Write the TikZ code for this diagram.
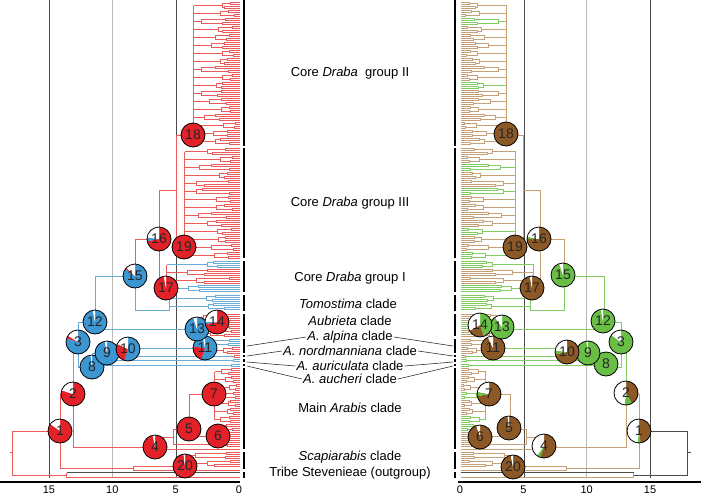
\documentclass[tikz,border=0pt]{standalone}
\usepackage{fontspec}
\setmainfont{Liberation Sans}
\usepackage{tikz}

\definecolor{redline}{RGB}{236,90,90}
\definecolor{blueline}{RGB}{105,172,218}
\definecolor{brownline}{RGB}{198,160,120}
\definecolor{greenline}{RGB}{130,204,100}
\definecolor{piered}{RGB}{226,34,40}
\definecolor{pieblue}{RGB}{60,150,210}
\definecolor{piebrown}{RGB}{140,88,38}
\definecolor{piegreen}{RGB}{105,190,70}

\tikzset{
  branch/.style={line width=0.8pt},
  gridline/.style={gray!60!black, line width=0.7pt},
  cladebar/.style={line width=2.6pt, black},
  pielabel/.style={circle, draw=black, line width=0.8pt, minimum size=24pt,
    inner sep=0pt, font=\fontsize{14}{14}\selectfont, text=black!85},
  cladename/.style={font=\fontsize{13}{15}\selectfont, inner sep=1pt},
  leader/.style={black!80, line width=0.6pt},
  ticklabel/.style={font=\fontsize{11}{11}\selectfont, inner sep=0pt}
}

% pie at centre #1 with number #2 and name #3, wedges colour/percent clockwise from 12 o'clock
\newcommand{\pie}[4]{%
  \fill[white] (#1) circle[radius=12pt];
  \gdef\pieangle{90}
  \foreach \wc/\wp in {#4} {
    \pgfmathsetmacro\pieend{\pieangle-3.6*\wp}
    \fill[\wc] (#1) -- ++(\pieangle:12pt) arc[start angle=\pieangle, end angle=\pieend, radius=12pt] -- cycle;
    \xdef\pieangle{\pieend}
  }
  \node[pielabel] (#3) at (#1) {#2};
}

% clade of quads: crown depth, stem y, first tip y, number of quads, colour, other colour, percent of other
\newcommand{\clade}[7]{%
  \pgfmathtruncatemacro\nq{#4-1}
  \foreach \k in {0,...,\nq} {
    \pgfmathsetmacro\yy{#3+8*\k}
    \pgfmathtruncatemacro\qd{#1*(0.35+0.55*rnd)}
    \pgfmathtruncatemacro\pa{\qd*(0.2+0.65*rnd)+1}
    \pgfmathtruncatemacro\pb{\qd*(0.2+0.65*rnd)+1}
    \pgfmathtruncatemacro\rr{mod(37*\k+13*#3+11,100)}
    \ifnum\rr<#7 \colorlet{tipc}{#6}\else\colorlet{tipc}{#5}\fi
    \draw[branch, tipc] (0,\yy) -- (\pa,\yy) -- (\pa,\yy+2) -- (0,\yy+2);
    \draw[branch, tipc] (0,\yy+4) -- (\pb,\yy+4) -- (\pb,\yy+6) -- (0,\yy+6);
    \draw[branch, tipc] (\pa,\yy+1) -- (\qd,\yy+1) -- (\qd,\yy+5) -- (\pb,\yy+5);
    \draw[branch, tipc] (\qd,\yy+3) -- (#1,\yy+3);
  }
  \pgfmathsetmacro\ytop{min(#2,#3+3)}
  \pgfmathsetmacro\ybot{max(#2,#3+8*#4-5)}
  \draw[branch, #5] (#1,\ytop) -- (#1,\ybot);
}

% whole tree, x is the depth from the tips
\newcommand{\drawtree}{%
  \pgfmathsetseed{7}
  % root and outgroup
  \draw[branch, rootc] (230,452) -- (227,452);
  \draw[branch, rootc] (179,431) -- (227,431) -- (227,475) -- (173,475);
  \draw[branch, one] (173,472) -- (173,477) -- (0,477);
  \draw[branch, black!70] (173,472) -- (0,472);
  % node 1 and Scapiarabis
  \draw[branch, one] (166,394) -- (179,394) -- (179,468) -- (106,468);
  \draw[branch, one] (54,466) -- (106,466) -- (106,470) -- (0,470);
  \clade{54}{466}{452}{2}{one}{two}{\sScapi}
  % node 2 and main Arabis clade
  \draw[branch, two] (161,342) -- (166,342) -- (166,394);
  \draw[branch, one] (166,394) -- (166,447) -- (84,447);
  \draw[branch, one] (66,437) -- (84,437) -- (84,449) -- (0,449);
  \draw[branch, one] (50,429) -- (66,429) -- (66,444) -- (30,444);
  \clade{30}{444}{440}{1}{one}{two}{\sArabis}
  \draw[branch, one] (25,394) -- (50,394) -- (50,436) -- (21,436);
  \clade{25}{394}{368}{7}{one}{two}{\sArabis}
  \clade{21}{436}{424}{2}{one}{two}{\sArabis}
  % node 3 and the small clades
  \draw[branch, two] (144,322) -- (161,322) -- (161,367) -- (147,367);
  \draw[branch, two] (132,353) -- (147,353) -- (147,365) -- (8,365);
  \draw[branch, two] (0,364) -- (8,364) -- (8,366) -- (0,366);
  \draw[branch, two] (111,349) -- (132,349) -- (132,360) -- (6,360);
  \draw[branch, two] (0,359) -- (6,359) -- (6,361) -- (0,361);
  \draw[branch, two] (34,348) -- (111,348) -- (111,356) -- (5,356);
  \draw[branch, one] (0,355) -- (5,355) -- (5,357) -- (0,357);
  \clade{34}{348}{339}{2}{one}{two}{\sAlpina}
  % node 12, Aubrieta, Tomostima and core Draba
  \draw[branch, two] (104,276) -- (144,276) -- (144,329) -- (42,329);
  \clade{42}{329}{314}{3}{one}{two}{\sAubrieta}
  \draw[branch, two] (70,310) -- (104,310) -- (104,276);
  \clade{70}{310}{295}{2}{two}{one}{\sTomostima}
  \draw[branch, one] (104,276) -- (104,239) -- (80,239);
  \draw[branch, one] (63,190) -- (80,190) -- (80,288) -- (73,288);
  \clade{73}{288}{261}{4}{one}{two}{\sCoreI}
  \draw[branch, one] (46,135) -- (63,135) -- (63,247) -- (55,247);
  \clade{55}{247}{148}{14}{one}{two}{\sCoreIII}
  \clade{46}{135}{2}{18}{one}{two}{\sCoreII}
}

\begin{document}
\begin{tikzpicture}[x=1pt, y=-1pt]
  \useasboundingbox (0,0) rectangle (701,496);

  % time lines
  \foreach \t in {5,15} {
    \draw[gridline] ({239.5-12.67*\t},0) -- ({239.5-12.67*\t},478);
    \draw[gridline] ({460.5+12.67*\t},0) -- ({460.5+12.67*\t},478);
  }
  \draw[gridline, gray!55, line width=1pt] (112.5,0) -- (112.5,478);
  \draw[gridline, gray!55, line width=1pt] (586.5,0) -- (586.5,478);

  % left tree
  \begin{scope}[xshift=239.5pt, yshift=-0.5pt, xscale=-1]
    \colorlet{one}{redline}
    \colorlet{two}{blueline}
    \colorlet{rootc}{redline}
    \def\sScapi{0}
    \def\sArabis{3}
    \def\sAlpina{50}
    \def\sAubrieta{25}
    \def\sTomostima{25}
    \def\sCoreI{35}
    \def\sCoreIII{3}
    \def\sCoreII{6}
    \drawtree
  \end{scope}

  % right tree
  \begin{scope}[xshift=460.5pt, yshift=-0.5pt]
    \colorlet{one}{brownline}
    \colorlet{two}{greenline}
    \colorlet{rootc}{black!70}
    \def\sScapi{15}
    \def\sArabis{30}
    \def\sAlpina{15}
    \def\sAubrieta{45}
    \def\sTomostima{20}
    \def\sCoreI{30}
    \def\sCoreIII{30}
    \def\sCoreII{15}
    \drawtree
  \end{scope}

  % clade bars
  \foreach \ya/\yb in {0/146, 148/258, 261/292, 295/311, 314/336, 339/353, 355/357,
      359/362, 364/366, 368/449, 452/469, 472/478} {
    \draw[cladebar] (244,\ya) -- (244,\yb);
    \draw[cladebar] (455,\ya) -- (455,\yb);
  }

  % axes
  \draw[line width=1.2pt] (0,482) -- (240,482);
  \draw[line width=1.2pt] (458,482) -- (701,482);
  \foreach \t in {0,5,10,15} {
    \node[ticklabel] (lt\t) at ({239-12.67*\t},489.5) {\t};
    \node[ticklabel] (rt\t) at ({460+12.67*\t},489.5) {\t};
  }

  % left pies
  \pie{60,431}{1}{l1}{piered/85,white/15}
  \pie{73,394}{2}{l2}{piered/80,white/20}
  \pie{78,342}{3}{l3}{pieblue/80,piered/4,white/16}
  \pie{155,447}{4}{l4}{piered/97,white/3}
  \pie{189,429}{5}{l5}{piered/100}
  \pie{218,436}{6}{l6}{piered/100}
  \pie{214,394}{7}{l7}{piered/100}
  \pie{92,367}{8}{l8}{pieblue/98,white/2}
  \pie{107,353}{9}{l9}{pieblue/97,white/3}
  \pie{128,349}{10}{l10}{pieblue/55,piered/27,white/18}
  \pie{205,348}{11}{l11}{pieblue/55,piered/22,pieblue/20,white/3}
  \pie{95,322}{12}{l12}{pieblue/97,white/3}
  \pie{197,329}{13}{l13}{pieblue/95,white/5}
  \pie{217,322}{14}{l14}{piered/72,pieblue/3,white/25}
  \pie{135,276}{15}{l15}{pieblue/85,piered/2,white/13}
  \pie{159,239}{16}{l16}{piered/72,pieblue/5,white/23}
  \pie{166,288}{17}{l17}{piered/97,white/3}
  \pie{193,135}{18}{l18}{piered/100}
  \pie{184,247}{19}{l19}{piered/100}
  \pie{185,466}{20}{l20}{piered/98,white/2}

  % right pies
  \pie{639,431}{1}{r1}{piebrown/48,piegreen/4,white/48}
  \pie{626,393}{2}{r2}{piebrown/42,piegreen/10,white/48}
  \pie{621,342}{3}{r3}{piegreen/85,white/15}
  \pie{544,446}{4}{r4}{piebrown/55,piegreen/5,white/40}
  \pie{509,428}{5}{r5}{piebrown/98,white/2}
  \pie{480,437}{6}{r6}{piebrown/95,white/5}
  \pie{489,394}{7}{r7}{piebrown/72,piegreen/6,white/22}
  \pie{606,364}{8}{r8}{piegreen/100}
  \pie{588,353}{9}{r9}{piegreen/98,white/2}
  \pie{567,352}{10}{r10}{piebrown/72,piegreen/5,white/23}
  \pie{493,348}{11}{r11}{piebrown/93,white/7}
  \pie{603,321}{12}{r12}{piegreen/97,white/3}
  \pie{502,327}{13}{r13}{piegreen/90,white/10}
  \pie{480,325}{14}{r14}{piegreen/45,piebrown/22,white/33}
  \pie{563,275}{15}{r15}{piegreen/95,white/5}
  \pie{539,239}{16}{r16}{piebrown/75,piegreen/3,white/22}
  \pie{532,288}{17}{r17}{piebrown/97,white/3}
  \pie{506,134}{18}{r18}{piebrown/100}
  \pie{515,247}{19}{r19}{piebrown/100}
  \pie{513,467}{20}{r20}{piebrown/97,white/3}

  % clade names
  \node[cladename] (cdII) at (350,73) {Core \textit{Draba}\ \ group II};
  \node[cladename] (cdIII) at (350,203) {Core \textit{Draba} group III};
  \node[cladename] (cdI) at (350,278) {Core \textit{Draba} group I};
  \node[cladename] (tomo) at (348,304) {\textit{Tomostima} clade};
  \node[cladename] (aub) at (350,321) {\textit{Aubrieta} clade};
  \node[cladename] (alp) at (350,337) {\textit{A. alpina} clade};
  \node[cladename] (nord) at (350,351) {\textit{A. nordmanniana} clade};
  \node[cladename] (auri) at (350,366) {\textit{A. auriculata} clade};
  \node[cladename] (auch) at (350,379) {\textit{A. aucheri} clade};
  \node[cladename] (arab) at (350,408) {Main \textit{Arabis} clade};
  \node[cladename] (scap) at (350,457) {\textit{Scapiarabis} clade};
  \node[cladename] (stev) at (350,473) {Tribe Stevenieae (outgroup)};

  % leader lines to the bars
  \coordinate (la) at (247,346);
  \coordinate (ra) at (453,346);
  \coordinate (lb) at (247,356);
  \coordinate (rb) at (453,356);
  \coordinate (lc) at (247,362);
  \coordinate (rc) at (453,362);
  \coordinate (ld) at (247,366);
  \coordinate (rd) at (453,366);
  \draw[leader] (la) -- (alp.west);
  \draw[leader] (alp.east) -- (ra);
  \draw[leader] (lb) -- (nord.west);
  \draw[leader] (nord.east) -- (rb);
  \draw[leader] (lc) -- (auri.west);
  \draw[leader] (auri.east) -- (rc);
  \draw[leader] (ld) -- (auch.west);
  \draw[leader] (auch.east) -- (rd);
\end{tikzpicture}
\end{document}
